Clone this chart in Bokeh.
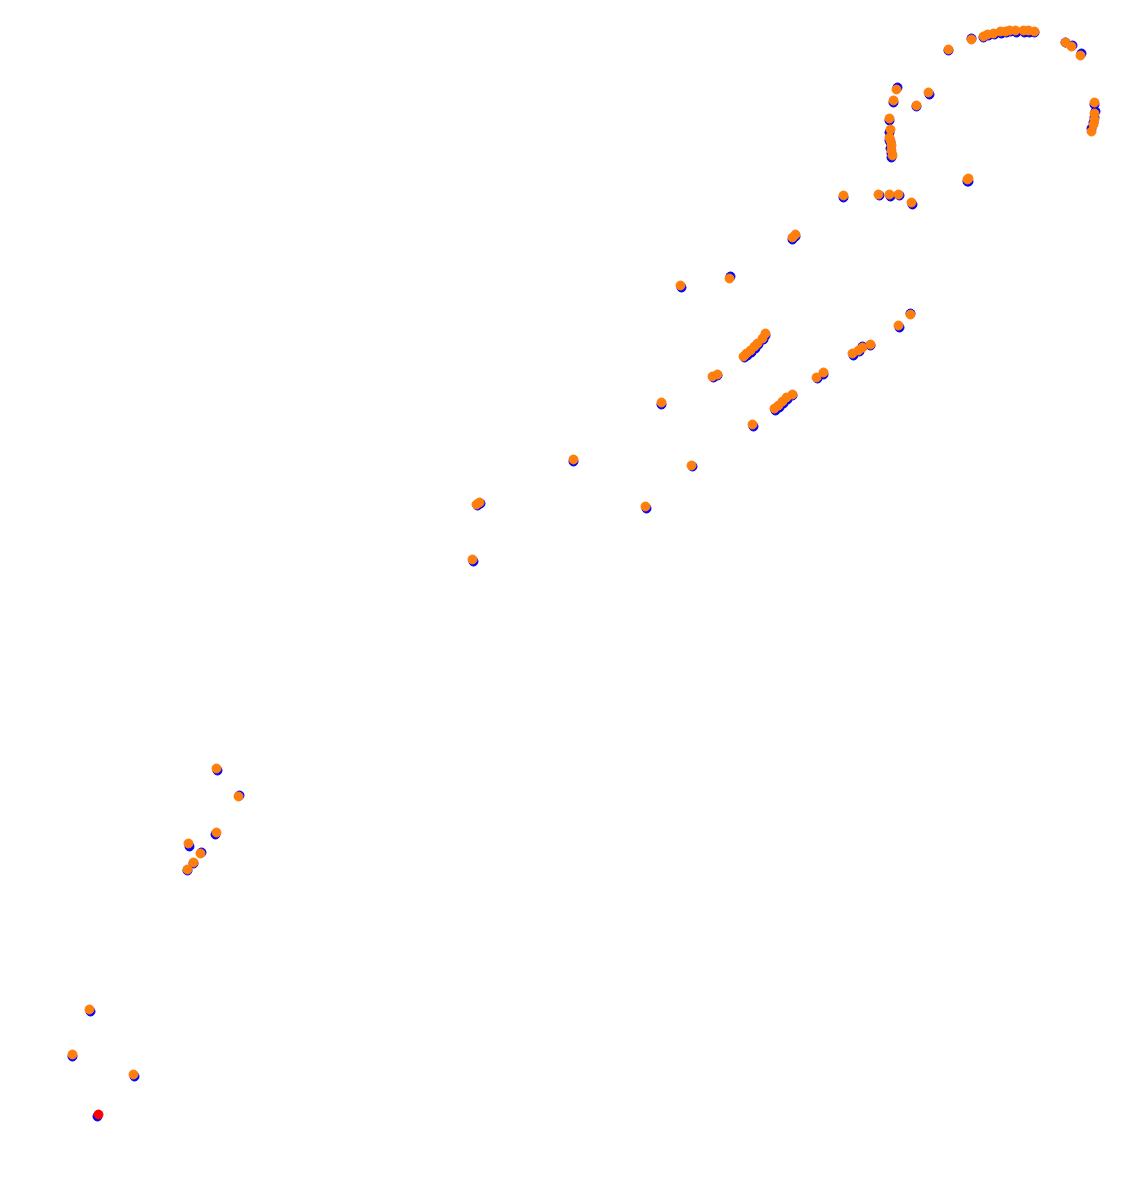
from bokeh.plotting import figure
from bokeh.models import Range1d
from bokeh.embed import file_html
from bokeh.resources import INLINE

# Track A (blue) positions
blue_x = [97, 90, 72, 134, 217, 239, 215, 189, 201, 193, 187,
          473, 477, 480, 573, 646, 692, 661, 681, 730, 792, 795,
          713, 717, 744, 747, 751, 755, 758, 763, 765,
          753, 775, 779, 783, 787, 792, 817, 823, 853, 859, 862, 870,
          899, 910, 843, 879, 890, 899, 912, 967,
          897, 893, 916, 929, 889, 889, 889, 890, 890, 891, 891,
          948, 971, 983, 988, 994, 1001, 1006, 1010, 1016, 1024, 1029, 1034,
          1065, 1072, 1081, 1094, 1095, 1094, 1093, 1091, 968]
blue_y = [1116, 1011, 1056, 1076, 770, 795, 834, 846, 852, 863, 870,
          561, 505, 503, 461, 508, 466, 404, 287, 276, 239, 236,
          377, 375, 357, 355, 352, 348, 344, 339, 335,
          426, 410, 407, 403, 399, 395, 378, 374, 355, 351, 346, 345,
          327, 313, 197, 195, 196, 195, 204, 181,
          87, 102, 106, 94, 120, 132, 140, 142, 148, 153, 157,
          50, 38, 37, 35, 34, 33, 32, 31, 32, 32, 32, 32,
          42, 45, 53, 104, 111, 117, 122, 128, 181]

# Track B (orange) positions
orange_x = [89, 72, 133, 216, 238, 216, 188, 200, 193, 187,
            472, 476, 479, 573, 645, 691, 661, 680, 729, 792, 795,
            712, 717, 743, 746, 750, 754, 757, 762, 765,
            752, 774, 778, 782, 786, 792, 816, 823, 852, 858, 862, 870,
            898, 910, 843, 878, 889, 898, 911, 967,
            896, 893, 916, 928, 889, 890, 889, 890, 891, 891, 892,
            948, 971, 983, 987, 993, 1000, 1005, 1009, 1015, 1023, 1028, 1034,
            1065, 1071, 1080, 1094, 1094, 1094, 1093, 1091, 968]
orange_y = [1009, 1054, 1074, 768, 796, 832, 843, 853, 862, 869,
            559, 504, 502, 459, 506, 465, 402, 285, 278, 237, 234,
            376, 374, 356, 353, 350, 346, 343, 338, 333,
            424, 408, 405, 401, 397, 394, 377, 372, 353, 350, 347, 344,
            325, 314, 195, 194, 194, 194, 202, 179,
            89, 100, 105, 92, 118, 129, 137, 140, 145, 150, 155,
            49, 39, 36, 34, 33, 31, 31, 30, 30, 30, 30, 31,
            42, 46, 55, 102, 113, 119, 124, 131, 178]

# Start marker
start_x = [98]
start_y = [1114]

W, H = 1106, 1165
p = figure(width=W, height=H, output_backend="svg", toolbar_location=None,
           x_range=Range1d(0, W), y_range=Range1d(H, 0),
           min_border=0, outline_line_color=None)
p.axis.visible = False
p.grid.visible = False
p.background_fill_color = "white"
p.border_fill_color = "white"

p.scatter(blue_x, blue_y, size=9, color="blue")
p.scatter(orange_x, orange_y, size=9, color="#ff7f0e")
p.scatter(start_x, start_y, size=9, color="red")

open("out.html", "w").write(file_html(p, INLINE))
